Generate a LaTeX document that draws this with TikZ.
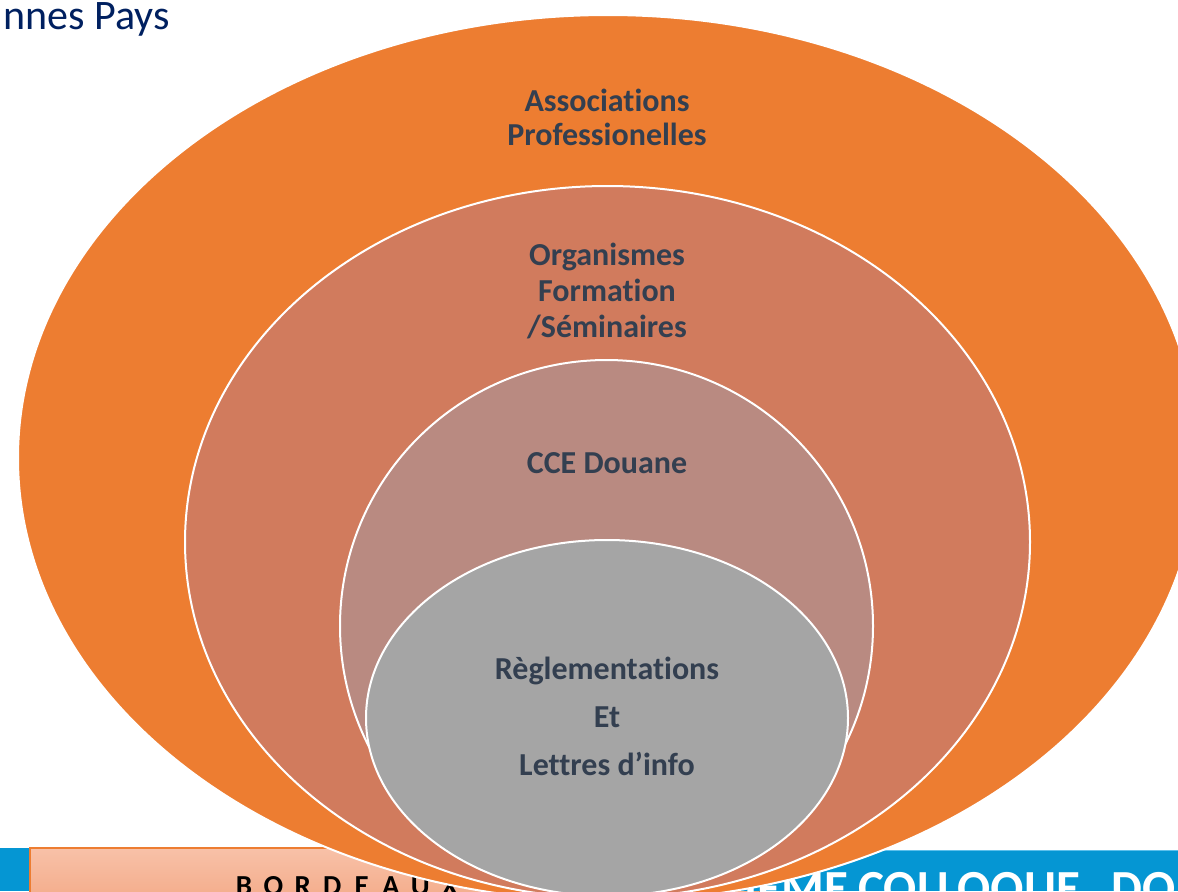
\documentclass[tikz,border=0pt]{standalone}
\usepackage{fontspec}
\setmainfont{Carlito}[Ligatures=NoCommon]
\usepackage{tikz}
\definecolor{ringorange}{HTML}{ED7D31}
\definecolor{ringsalmon}{HTML}{D17B5D}
\definecolor{ringmauve}{HTML}{B98A81}
\definecolor{ringgray}{HTML}{A5A5A5}
\definecolor{slatetext}{HTML}{333F50}
\definecolor{titlenavy}{HTML}{002060}
\definecolor{bandblue}{HTML}{0596D3}
\definecolor{bandbluelight}{HTML}{5CC0EC}
\definecolor{salmontop}{HTML}{F8C1A8}
\definecolor{salmonbottom}{HTML}{F4AE8D}

\begin{document}
\begin{tikzpicture}[x=0.5pt, y=-0.5pt,
    ringline/.style={draw=white, line width=1pt},
    ringlabel/.style={text=slatetext, font=\bfseries\fontsize{16}{17}\selectfont, align=center, inner sep=0pt, anchor=base},
    bandtext/.style={text=white, font=\bfseries\fontsize{24.5}{28}\selectfont, inner sep=0pt}]
    \useasboundingbox (0,0) rectangle (1178,891);
    \clip (0,0) rectangle (1178,891);

    % Baender.
    \fill[bandblue] (0,848) rectangle (30,891);
    \shade[top color=salmontop, bottom color=salmonbottom, draw=ringorange, line width=0.8pt] (30,848) rectangle (760,895);
    \fill[bandblue] (700,850) rectangle (1178,891);
    \draw[bandbluelight, line width=0.8pt] (700,850.5) -- (1178,850.5);

    \foreach \c [count=\i from 0] in {B,O,R,D,E,A,U,X}
    {
        \node[text=black, font=\bfseries\fontsize{14.5}{16}\selectfont, inner sep=0pt, anchor=base] (bdx\i) at (244+29.4*\i, 895) {\c};
    }
    \node[bandtext, anchor=base east] (colA) at (849,904) {IÈME};
    \node[bandtext, anchor=base west] (colB) at (858,904) {COLLOQUE};
    \node[bandtext, anchor=base west] (colC) at (1111,904) {DO};

    % Ellipsen.
    \filldraw[ringline, fill=ringorange] (608,458) ellipse [x radius=590, y radius=443];
    \filldraw[ringline, fill=ringsalmon] (607.5,542) ellipse [x radius=422.5, y radius=356];
    \filldraw[ringline, fill=ringmauve] (606.5,626) ellipse [x radius=266.5, y radius=266];
    \filldraw[ringline, fill=ringgray] (607,718) ellipse [x radius=241, y radius=178];

    % Beschriftung.
    \node[text=titlenavy, font=\fontsize{21}{24}\selectfont, inner sep=0pt, anchor=base east] (titel) at (170,29) {nnes Pays};

    \node[ringlabel] (assoc) at (607,145) {Associations\\Professionelles};
    \node[ringlabel, font=\bfseries\fontsize{16}{18}\selectfont] (orga) at (607,337) {Organismes\\Formation\\/Séminaires};
    \node[ringlabel] (cce) at (607,473) {CCE Douane};
    \node[ringlabel, font=\bfseries\fontsize{16}{24}\selectfont] (regl) at (607,775) {Règlementations\\Et\\Lettres d’info};
\end{tikzpicture}
\end{document}
